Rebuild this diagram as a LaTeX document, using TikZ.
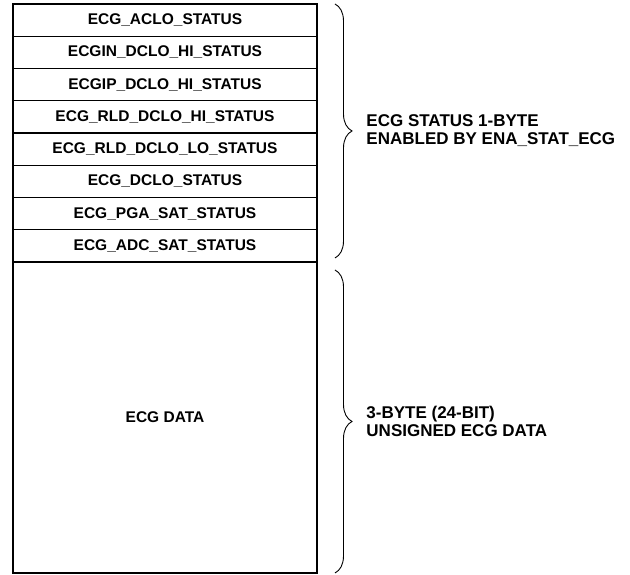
\documentclass[tikz,border=0pt]{standalone}
\usepackage{fontspec}
\setmainfont{Liberation Sans}
\usetikzlibrary{positioning,decorations.pathreplacing}

\begin{document}
\begin{tikzpicture}[x=1pt,y=-1pt,
  field/.style={draw,line width=1.4pt,minimum width=304pt,minimum height=32.25pt,
    inner sep=0pt,outer sep=0pt,font=\fontsize{15.5}{17}\selectfont\bfseries},
  bracket/.style={decorate,decoration={brace,amplitude=17pt},line width=0.9pt},
  note/.style={align=left,inner sep=0pt,font=\fontsize{17}{18}\selectfont\bfseries}]
\useasboundingbox (0,0) rectangle (630,575);

% status byte
\node[field] (aclo) at (165,20.1) {ECG\_ACLO\_STATUS};
\node[field,below=0pt of aclo] (indclo) {ECGIN\_DCLO\_HI\_STATUS};
\node[field,below=0pt of indclo] (ipdclo) {ECGIP\_DCLO\_HI\_STATUS};
\node[field,below=0pt of ipdclo] (rldhi) {ECG\_RLD\_DCLO\_HI\_STATUS};
\node[field,below=0pt of rldhi] (rldlo) {ECG\_RLD\_DCLO\_LO\_STATUS};
\node[field,below=0pt of rldlo] (dclo) {ECG\_DCLO\_STATUS};
\node[field,below=0pt of dclo] (pgasat) {ECG\_PGA\_SAT\_STATUS};
\node[field,below=0pt of pgasat] (adcsat) {ECG\_ADC\_SAT\_STATUS};

% data bytes
\node[field,below=0pt of adcsat,minimum height=311pt] (data) {ECG DATA};

\draw[bracket] ([xshift=18pt]aclo.north east) -- ([xshift=18pt,yshift=4pt]adcsat.south east)
  node[midway,right=31pt,note] (statnote) {ECG STATUS 1-BYTE\\ENABLED BY ENA\_STAT\_ECG};
\draw[bracket] ([xshift=18pt,yshift=-8pt]data.north east) -- ([xshift=18pt]data.south east)
  node[midway,right=31pt,note] (datanote) {3-BYTE (24-BIT)\\UNSIGNED ECG DATA};
\end{tikzpicture}
\end{document}
